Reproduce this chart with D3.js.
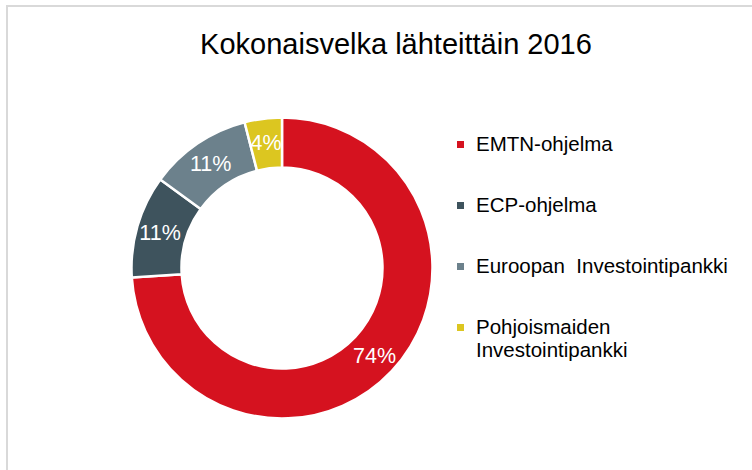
<!DOCTYPE html>
<html>
<head>
<meta charset="utf-8">
<script src="https://cdn.jsdelivr.net/npm/d3@7"></script>
<style>
  html, body { margin: 0; padding: 0; background: #fff; }
  svg { display: block; font-family: "Liberation Sans", Arial, sans-serif; }
</style>
</head>
<body>
<svg id="chart" width="752" height="470"></svg>
<script>
const title = "Kokonaisvelka lähteittäin 2016";
const categories = ["EMTN-ohjelma", "ECP-ohjelma", "Euroopan  Investointipankki", "Pohjoismaiden Investointipankki"];
const legendLines = [["EMTN-ohjelma"], ["ECP-ohjelma"], ["Euroopan  Investointipankki"], ["Pohjoismaiden", "Investointipankki"]];
const values = [74, 11, 11, 4];
const colors = ["#d5121f", "#3e535d", "#6c818c", "#dcc620"];

const svg = d3.select("#chart");

// outer frame
svg.append("rect")
  .attr("x", 7).attr("y", 6)
  .attr("width", 800).attr("height", 500)
  .attr("fill", "#fff")
  .attr("stroke", "#d9d9d9").attr("stroke-width", 2);

svg.append("text")
  .attr("x", 396).attr("y", 54)
  .attr("text-anchor", "middle")
  .attr("font-size", 29)
  .attr("fill", "#000")
  .text(title);

const cx = 282, cy = 268, rOuter = 150.5, rInner = 100.5;
const pie = d3.pie().sort(null).value(d => d);
const arcs = pie(values);
const arc = d3.arc().innerRadius(rInner).outerRadius(rOuter);
const labelArc = d3.arc().innerRadius(127).outerRadius(127);

const g = svg.append("g").attr("transform", `translate(${cx},${cy})`);
g.selectAll("path").data(arcs).enter().append("path")
  .attr("d", arc)
  .attr("fill", (d, i) => colors[i])
  .attr("stroke", "#fff").attr("stroke-width", 2.5);

g.selectAll("text.lbl").data(arcs).enter().append("text")
  .attr("class", "lbl")
  .attr("transform", d => `translate(${labelArc.centroid(d)})`)
  .attr("text-anchor", "middle")
  .attr("dy", "0.36em")
  .attr("font-size", 21.5)
  .attr("fill", "#fff")
  .text(d => d.data + "%");

// legend
const legendY = d3.scalePoint().domain(categories).range([150.5, 333.5]);
const lg = svg.append("g");
categories.forEach((c, i) => {
  const y = legendY(c);
  lg.append("rect")
    .attr("x", 457).attr("y", y - 9.5)
    .attr("width", 7).attr("height", 7)
    .attr("fill", colors[i]);
  const t = lg.append("text")
    .attr("x", 476).attr("y", y)
    .attr("font-size", 20.5)
    .attr("fill", "#000")
    .attr("xml:space", "preserve")
    .style("white-space", "pre");
  legendLines[i].forEach((line, j) => {
    t.append("tspan").attr("x", 476).attr("y", y + j * 23.5).text(line);
  });
});
</script>
</body>
</html>
